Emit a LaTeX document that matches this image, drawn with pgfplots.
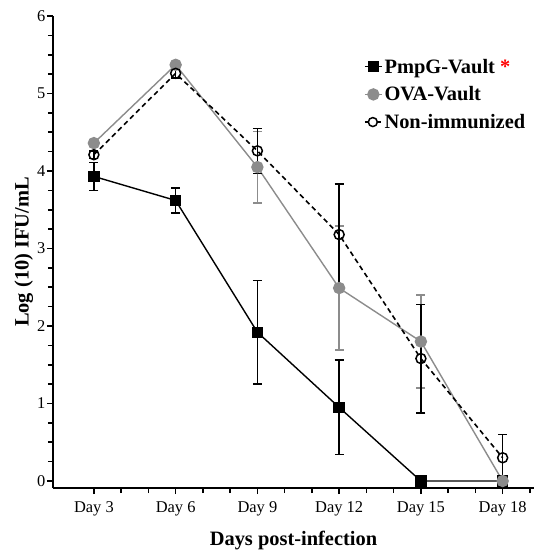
\documentclass[border=0pt]{standalone}
\usepackage{fontspec}
\setmainfont{Liberation Serif}
\usepackage{pgfplots}
\pgfplotsset{compat=1.18}
\usetikzlibrary{calc}
\definecolor{ovagray}{RGB}{140,140,140}

\begin{document}
\begin{tikzpicture}
\begin{axis}[
  name=ax,
  scale only axis, width=481bp, height=472bp,
  xmin=1.5, xmax=19.15, ymin=-0.09, ymax=6,
  axis x line*=bottom, axis y line*=left,
  axis line style={black, line width=2bp, -},
  xtick={3,6,...,18},
  xticklabels={Day 3,Day 6,Day 9,Day 12,Day 15,Day 18},
  minor xtick={4,5,7,8,10,11,13,14,16,17,19},
  ytick={0,1,...,6}, minor y tick num=3,
  tick align=outside,
  major tick length=6bp, minor tick length=5bp,
  tick style={black, line width=1.6bp},
  /pgf/number format/assume math mode=true,
  tick label style={font=\fontsize{16.5}{19}\selectfont},
  yticklabel style={inner sep=1.5bp},
  xticklabel style={inner sep=2bp, yshift=-5bp},
  xlabel={\textbf{Days post-infection}},
  ylabel={\textbf{Log (10) IFU/mL}},
  label style={font=\fontsize{20.5}{24}\selectfont},
  xlabel style={yshift=-10bp},
  ylabel style={yshift=-1bp},
  legend style={draw=none, fill=none, at={(axis cs:12.8,5.5)}, anchor=north west,
    font=\fontsize{20.5}{24}\selectfont\bfseries, row sep=8bp,
    /tikz/every even column/.append style={column sep=8bp}},
  legend cell align=left,
]
% PmpG-Vault
\addplot[black, line width=1.4bp, mark=square*, mark size=5bp,
  error bars/.cd, y dir=both, y explicit,
  error bar style={line width=1.5bp, black},
  error mark options={rotate=90, mark size=4.5bp, line width=1.5bp}]
  coordinates {
  (3,3.93) +- (0,0.18)
  (6,3.62) +- (0,0.16)
  (9,1.92) +- (0,0.67)
  (12,0.95) +- (0,0.61)
  (15,0) +- (0,0)
  (18,0) +- (0,0)
};
\addlegendentry{PmpG-Vault \textcolor{red}{*}}
% OVA-Vault
\addplot[ovagray, line width=1.4bp, mark=*, mark size=5.5bp,
  mark options={fill=ovagray, draw=ovagray},
  error bars/.cd, y dir=both, y explicit,
  error bar style={line width=1.5bp, ovagray},
  error mark options={rotate=90, mark size=4.5bp, line width=1.5bp, ovagray}]
  coordinates {
  (3,4.36) +- (0,0.03)
  (6,5.37) +- (0,0.02)
  (9,4.05) +- (0,0.46)
  (12,2.49) +- (0,0.80)
  (15,1.80) +- (0,0.60)
  (18,0) +- (0,0)
};
\addlegendentry{OVA-Vault}
% Non-immunized
\addplot[black, line width=1.6bp, dash pattern=on 5bp off 3.5bp, mark=o, mark size=5bp,
  mark options={solid, fill=white, line width=1.5bp},
  legend image code/.code={\draw[black, line width=1.4bp, solid] (0bp,0bp) -- (16bp,0bp);
    \draw[black, fill=white, line width=1.5bp, solid] (8bp,0bp) circle (4.5bp);},
  error bars/.cd, y dir=both, y explicit,
  error bar style={line width=1.5bp, black, solid},
  error mark options={rotate=90, mark size=4.5bp, line width=1.5bp, solid}]
  coordinates {
  (3,4.21) +- (0,0.05)
  (6,5.26) +- (0,0.06)
  (9,4.26) +- (0,0.29)
  (12,3.18) +- (0,0.65)
  (15,1.58) +- (0,0.70)
  (18,0.30) +- (0,0.30)
};
\addlegendentry{Non-immunized}
\end{axis}
\pgfresetboundingbox
\path ($(ax.south west)+(-53bp,-62bp)$) rectangle ($(ax.north east)+(0bp,16bp)$);
\end{tikzpicture}
\end{document}
